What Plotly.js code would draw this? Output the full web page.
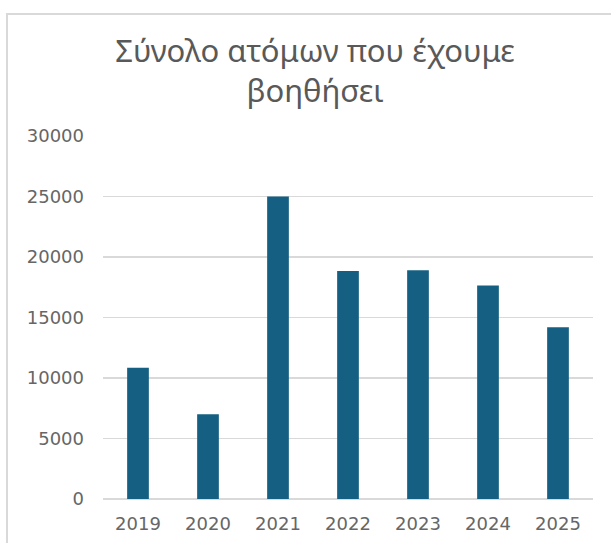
<!DOCTYPE html>
<html>
<head>
<meta charset="utf-8">
<script src="https://cdn.plot.ly/plotly-3.0.1.min.js"></script>
<style>html,body{margin:0;padding:0;background:#fff;}#chart{width:611px;height:543px;}</style>
</head>
<body>
<div id="chart"></div>
<script>
const years = ['2019', '2020', '2021', '2022', '2023', '2024', '2025'];
const people = [10850, 7000, 25000, 18850, 18900, 17650, 14200];
const yTicks = [0, 5000, 10000, 15000, 20000, 25000, 30000];
const titleText = 'Σύνολο ατόμων που έχουμε<br>βοηθήσει';

const trace = {
  type: 'bar',
  x: years,
  y: people,
  marker: {color: '#156082'},
  hoverinfo: 'x+y'
};

const layout = {
  width: 611,
  height: 543,
  margin: {l: 103, r: 18, t: 136, b: 44},
  paper_bgcolor: '#ffffff',
  plot_bgcolor: '#ffffff',
  bargap: 0.69,
  showlegend: false,
  title: {
    text: titleText,
    x: 315 / 611,
    xanchor: 'center',
    xref: 'container',
    y: 1 - 62 / 543,
    yanchor: 'top',
    yref: 'container',
    font: {family: 'Noto Sans', size: 31, color: '#595959'}
  },
  xaxis: {
    type: 'category',
    range: [-0.5, 6.5],
    showgrid: false,
    showline: false,
    zeroline: false,
    ticks: '',
    ticklabelstandoff: 12,
    tickfont: {family: 'DejaVu Sans', size: 18, color: '#666666'}
  },
  yaxis: {
    range: [0, 30000],
    tickvals: yTicks,
    ticktext: yTicks.map(String),
    showgrid: true,
    gridcolor: '#d9d9d9',
    gridwidth: 1.5,
    zeroline: true,
    zerolinecolor: '#d9d9d9',
    zerolinewidth: 1.5,
    showline: false,
    ticks: '',
    ticklabelstandoff: 18,
    tickfont: {family: 'DejaVu Sans', size: 18, color: '#666666'}
  },
  shapes: [{
    type: 'rect',
    xref: 'paper', yref: 'paper',
    x0: (7 - 103) / 490, x1: 1.2,
    y0: -0.3, y1: 1 + (136 - 14) / 363,
    line: {color: '#d9d9d9', width: 2},
    fillcolor: 'rgba(0,0,0,0)',
    layer: 'below'
  }]
};

Plotly.newPlot('chart', [trace], layout, {displayModeBar: false, staticPlot: true});
</script>
</body>
</html>
